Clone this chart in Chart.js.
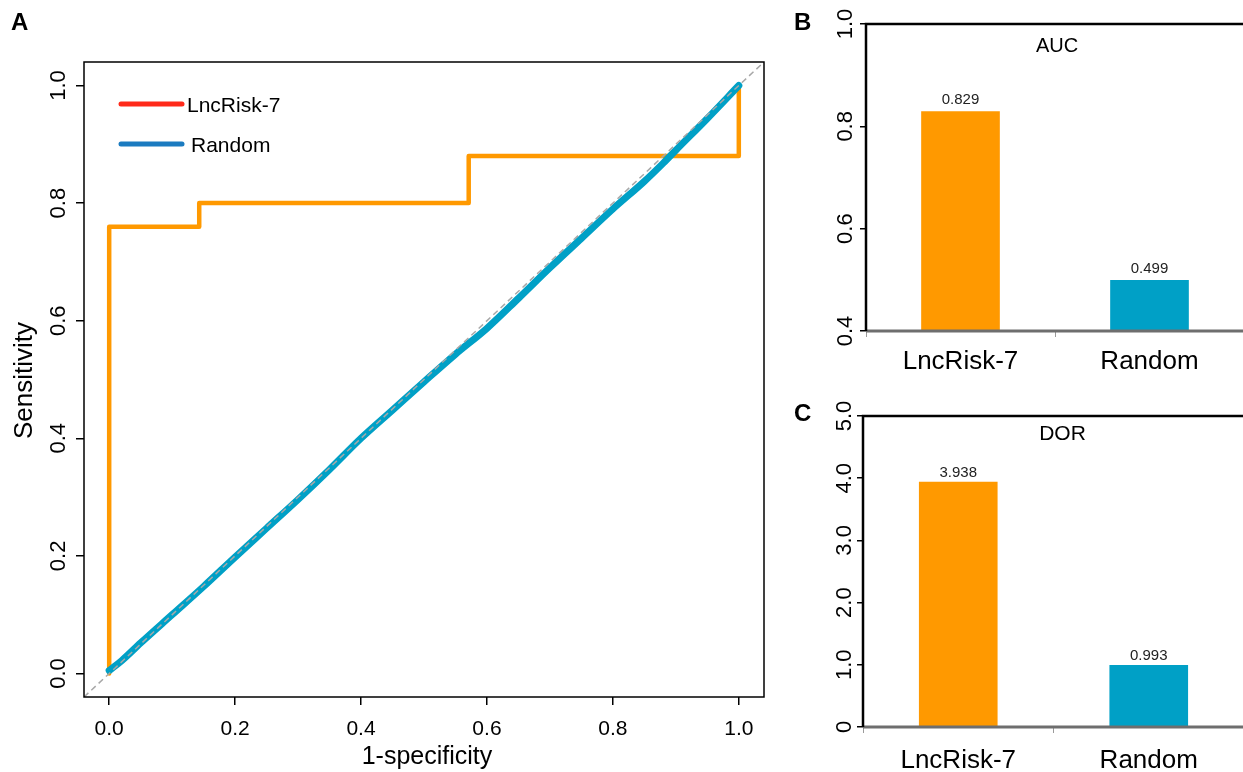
<!DOCTYPE html>
<html>
<head>
<meta charset="utf-8">
<script src="https://cdn.jsdelivr.net/npm/chart.js@4.4.0/dist/chart.umd.min.js"></script>
<style>
  html, body { margin: 0; padding: 0; background: #fff; overflow: hidden; }
  body { width: 1243px; height: 772px; position: relative; font-family: "Liberation Sans", Arial, sans-serif; }
  .panel { position: absolute; }
  .tag { position: absolute; font-weight: bold; font-size: 24px; line-height: 24px; }
</style>
</head>
<body>
<div class="panel" style="left:0;top:0;width:780px;height:772px"><canvas id="roc"></canvas></div>
<div class="panel" style="left:780px;top:0;width:464px;height:390px"><canvas id="auc"></canvas></div>
<div class="panel" style="left:780px;top:390px;width:464px;height:382px"><canvas id="dor"></canvas></div>
<div class="tag" style="left:11px;top:10px">A</div>
<div class="tag" style="left:794px;top:10px">B</div>
<div class="tag" style="left:794px;top:401px">C</div>
<script>
// ROC curves (1-specificity vs sensitivity)
const lncFpr = [0, 0, 0.143, 0.143, 0.571, 0.571, 1.0, 1.0];
const lncTpr = [0, 0.76, 0.76, 0.80, 0.80, 0.88, 0.88, 1.0];
const rndFpr = [0, 0.02, 0.05, 0.10, 0.15, 0.20, 0.25, 0.30, 0.35, 0.40, 0.45, 0.50, 0.55, 0.60, 0.65, 0.70, 0.75, 0.80, 0.85, 0.88, 0.90, 0.95, 1.0];
const rndTpr = [0.005, 0.022, 0.052, 0.10, 0.148, 0.198, 0.247, 0.296, 0.347, 0.40, 0.448, 0.496, 0.543, 0.587, 0.638, 0.69, 0.74, 0.79, 0.837, 0.868, 0.89, 0.944, 1.0];
const rocTicks = [0, 0.2, 0.4, 0.6, 0.8, 1.0];
const rocLegend = ["LncRisk-7", "Random"];

// bar panels
const groups = ["LncRisk-7", "Random"];
const aucValues = [0.829, 0.499];
const dorValues = [3.938, 0.993];
const aucTicks = [0.4, 0.6, 0.8, 1.0];
const aucTickLabels = ["0.4", "0.6", "0.8", "1.0"];
const dorTicks = [0, 1, 2, 3, 4, 5];
const dorTickLabels = ["0", "1.0", "2.0", "3.0", "4.0", "5.0"];

const FONT = '"Liberation Sans", Arial, sans-serif';
const ORANGE = "#FF9900";
const BLUE = "#00A0C6";
const LEG_RED = "#FF2A1A";
const LEG_BLUE = "#1B7BC0";

Chart.defaults.font.family = FONT;
Chart.defaults.color = "#000";
Chart.defaults.animation = false;

const pts = (xs, ys) => xs.map((x, i) => ({ x: x, y: ys[i] }));

function rotatedYLabels(chart, values, texts, baseX, size) {
  const ctx = chart.ctx;
  const ys = chart.scales.y;
  ctx.save();
  ctx.font = size + "px " + FONT;
  ctx.fillStyle = "#000";
  ctx.textAlign = "center";
  ctx.textBaseline = "alphabetic";
  values.forEach((v, i) => {
    ctx.save();
    ctx.translate(baseX, ys.getPixelForValue(v));
    ctx.rotate(-Math.PI / 2);
    ctx.fillText(texts[i], 0, 0);
    ctx.restore();
  });
  ctx.restore();
}

// ---------- A: ROC ----------
const rocDeco = {
  id: "rocDeco",
  afterDraw(chart) {
    const ctx = chart.ctx;
    const a = chart.chartArea;
    ctx.save();
    ctx.strokeStyle = "#000";
    ctx.lineWidth = 1.5;
    ctx.strokeRect(a.left, a.top, a.right - a.left, a.bottom - a.top);

    rotatedYLabels(chart, rocTicks, rocTicks.map(v => v.toFixed(1)), 65, 22);

    ctx.fillStyle = "#000";
    ctx.textAlign = "center";
    ctx.font = "25px " + FONT;
    const xs = chart.scales.x;
    ctx.fillText("1-specificity", (xs.getPixelForValue(0) + xs.getPixelForValue(1)) / 2 + 3, 764);
    ctx.save();
    ctx.translate(32, chart.scales.y.getPixelForValue(0.5) + 1);
    ctx.rotate(-Math.PI / 2);
    ctx.font = "26px " + FONT;
    ctx.fillText("Sensitivity", 0, 0);
    ctx.restore();

    // legend
    const legCols = [LEG_RED, LEG_BLUE];
    ctx.lineCap = "round";
    ctx.lineWidth = 5;
    ctx.textAlign = "left";
    ctx.font = "21px " + FONT;
    rocLegend.forEach((name, i) => {
      const y = a.top + 42 + i * 40;
      ctx.strokeStyle = legCols[i];
      ctx.beginPath();
      ctx.moveTo(a.left + 37, y);
      ctx.lineTo(a.left + 98, y);
      ctx.stroke();
      ctx.fillText(name, a.left + 103 + i * 4, y + 8);
    });
    ctx.restore();
  }
};

new Chart(document.getElementById("roc"), {
  type: "scatter",
  data: {
    datasets: [
      {
        label: "ref",
        data: pts([-0.04, 1.04], [-0.04, 1.04]),
        showLine: true,
        borderColor: "#A8A8A8",
        borderWidth: 1.5,
        borderDash: [6, 4],
        pointRadius: 0,
        order: 0
      },
      {
        label: "Random",
        data: pts(rndFpr, rndTpr),
        showLine: true,
        borderColor: BLUE,
        borderWidth: 7,
        borderCapStyle: "round",
        borderJoinStyle: "round",
        cubicInterpolationMode: "monotone",
        pointRadius: 0,
        order: 1
      },
      {
        label: "LncRisk-7",
        data: pts(lncFpr, lncTpr),
        showLine: true,
        borderColor: ORANGE,
        borderWidth: 4.5,
        borderCapStyle: "round",
        borderJoinStyle: "round",
        pointRadius: 0,
        order: 2
      }
    ]
  },
  options: {
    responsive: true,
    maintainAspectRatio: false,
    layout: { padding: { top: 62, right: 16, left: 0, bottom: 0 } },
    plugins: { legend: { display: false }, tooltip: { enabled: false } },
    scales: {
      x: {
        type: "linear",
        min: -0.04,
        max: 1.04,
        afterBuildTicks: s => { s.ticks = rocTicks.map(v => ({ value: v })); },
        afterFit: s => { s.height = 75; },
        grid: { drawOnChartArea: false, tickLength: 8, color: "#000", lineWidth: 1.5 },
        border: { display: false },
        ticks: { font: { size: 21 }, color: "#000", padding: 12, maxRotation: 0, autoSkip: false, callback: v => v.toFixed(1) }
      },
      y: {
        type: "linear",
        min: -0.04,
        max: 1.04,
        afterBuildTicks: s => { s.ticks = rocTicks.map(v => ({ value: v })); },
        afterFit: s => { s.width = 84; },
        grid: { drawOnChartArea: false, tickLength: 8, color: "#000", lineWidth: 1.5 },
        border: { display: false },
        ticks: { display: false }
      }
    }
  },
  plugins: [rocDeco]
});

// ---------- B / C: bar panels ----------
function barPanel(id, values, ticks, tickLabels, yMin, yMax, opts) {
  const deco = {
    id: "deco_" + id,
    afterDatasetsDraw(chart) {
      const ctx = chart.ctx;
      const a = chart.chartArea;
      ctx.save();
      // bottom grey baseline over the bars
      ctx.strokeStyle = "#6E6E6E";
      ctx.lineWidth = 3;
      ctx.beginPath();
      ctx.moveTo(a.left, a.bottom);
      ctx.lineTo(a.right + 2, a.bottom);
      ctx.stroke();
      // left + top frame
      ctx.strokeStyle = "#000";
      ctx.lineWidth = 2.5;
      ctx.beginPath();
      ctx.moveTo(a.left, a.bottom);
      ctx.lineTo(a.left, a.top);
      ctx.lineTo(a.right + 2, a.top);
      ctx.stroke();

      rotatedYLabels(chart, ticks, tickLabels, opts.labelX, 22);

      // panel title
      ctx.fillStyle = "#000";
      ctx.textAlign = "center";
      ctx.font = opts.titleSize + "px " + FONT;
      ctx.fillText(opts.title, (a.left + a.right) / 2 + opts.titleShift, opts.titleY);

      // value labels
      ctx.fillStyle = "#222";
      ctx.font = "15px " + FONT;
      const meta = chart.getDatasetMeta(0);
      meta.data.forEach((bar, i) => {
        ctx.fillText(values[i].toFixed(3), bar.x, bar.y - opts.valueGap);
      });
      ctx.restore();
    }
  };

  return new Chart(document.getElementById(id), {
    type: "bar",
    data: {
      labels: groups,
      datasets: [{
        data: values,
        backgroundColor: [ORANGE, BLUE],
        barThickness: 78,
        borderWidth: 0
      }]
    },
    options: {
      responsive: true,
      maintainAspectRatio: false,
      layout: { padding: { top: opts.top, right: 0, left: 0, bottom: 0 } },
      plugins: { legend: { display: false }, tooltip: { enabled: false } },
      scales: {
        x: {
          afterFit: s => { s.height = opts.xHeight; },
          grid: { drawOnChartArea: false, tickLength: 6, color: "#9A9A9A", lineWidth: 1, offset: true },
          border: { display: false },
          ticks: { font: { size: 26 }, color: "#000", padding: opts.xPad, maxRotation: 0, autoSkip: false }
        },
        y: {
          min: yMin,
          max: yMax,
          afterBuildTicks: s => { s.ticks = ticks.map(v => ({ value: v })); },
          afterFit: s => { s.width = opts.yWidth; },
          grid: { drawOnChartArea: false, tickLength: 6, color: "#000", lineWidth: 1.5 },
          border: { display: false },
          ticks: { display: false }
        }
      }
    },
    plugins: [deco]
  });
}

barPanel("auc", aucValues, aucTicks, aucTickLabels, 0.4, 1.0, {
  top: 24, xHeight: 59, yWidth: 86, xPad: 9, labelX: 72,
  title: "AUC", titleSize: 20, titleY: 52, titleShift: 2, valueGap: 7
});
barPanel("dor", dorValues, dorTicks, dorTickLabels, 0, 5, {
  top: 26, xHeight: 45, yWidth: 83, xPad: 12, labelX: 71,
  title: "DOR", titleSize: 21, titleY: 50, titleShift: 9, valueGap: 5
});
</script>
</body>
</html>
